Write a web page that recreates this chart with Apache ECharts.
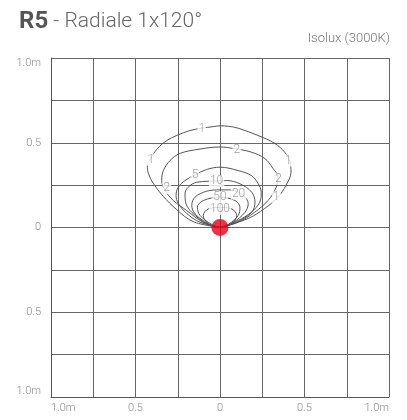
<!DOCTYPE html>
<html>
<head>
<meta charset="utf-8">
<style>
  html, body { margin: 0; padding: 0; background: #fff; }
  #chart { width: 407px; height: 420px; }
</style>
<script src="https://cdn.jsdelivr.net/npm/echarts@6/dist/echarts.min.js"></script>
</head>
<body>
<div id="chart"></div>
<script>
// axis ticks (metres) and their printed labels
const tickValues = [-1, -0.5, 0, 0.5, 1]
const tickLabels = ['1.0m', '0.5', '0', '0.5', '1.0m']

// isolux levels and their contours, [x, y] in metres
const levels = ['1', '2', '5', '10', '20', '50', '100']
const lux1 = [[0, 0], [-0.16, 0.035], [-0.256, 0.105], [-0.337, 0.185], [-0.396, 0.262], [-0.424, 0.32], [-0.43, 0.366], [-0.41, 0.407], [-0.37, 0.466], [-0.315, 0.513], [-0.256, 0.543], [-0.178, 0.572], [-0.108, 0.586], [-0.04, 0.595], [0, 0.6], [0.05, 0.597], [0.107, 0.586], [0.225, 0.543], [0.324, 0.496], [0.383, 0.444], [0.415, 0.385], [0.42, 0.326], [0.39, 0.248], [0.343, 0.179], [0.264, 0.112], [0.166, 0.053], [0, 0]]
const lux2 = [[0, 0], [-0.1, 0.031], [-0.197, 0.1], [-0.276, 0.159], [-0.325, 0.218], [-0.345, 0.277], [-0.335, 0.336], [-0.296, 0.395], [-0.237, 0.437], [-0.118, 0.463], [0, 0.475], [0.087, 0.465], [0.184, 0.445], [0.265, 0.407], [0.314, 0.348], [0.343, 0.297], [0.333, 0.238], [0.284, 0.159], [0.205, 0.09], [0.107, 0.031], [0, 0]]
const lux5 = [[0, 0], [-0.118, 0.031], [-0.197, 0.083], [-0.247, 0.142], [-0.26, 0.189], [-0.247, 0.238], [-0.207, 0.277], [-0.148, 0.311], [-0.079, 0.342], [0, 0.356], [0.107, 0.336], [0.185, 0.307], [0.225, 0.26], [0.244, 0.208], [0.235, 0.149], [0.185, 0.09], [0.107, 0.041], [0, 0]]
const lux10 = [[0, 0], [-0.079, 0.022], [-0.167, 0.09], [-0.201, 0.14], [-0.207, 0.199], [-0.188, 0.238], [-0.138, 0.267], [0, 0.275], [0.04, 0.277], [0.118, 0.258], [0.188, 0.208], [0.207, 0.149], [0.188, 0.09], [0.099, 0.031], [0, 0]]
const lux20 = [[0, 0], [-0.069, 0.022], [-0.148, 0.081], [-0.167, 0.13], [-0.148, 0.179], [-0.079, 0.214], [0, 0.222], [0.059, 0.222], [0.138, 0.189], [0.167, 0.14], [0.148, 0.09], [0.079, 0.031], [0, 0]]
const lux50 = [[0, 0], [-0.049, 0.018], [-0.118, 0.071], [-0.134, 0.12], [-0.099, 0.159], [0, 0.179], [0.089, 0.159], [0.118, 0.12], [0.108, 0.071], [0.049, 0.018], [0, 0]]
const lux100 = [[0, 0], [-0.069, 0.022], [-0.099, 0.071], [-0.069, 0.11], [0, 0.118], [0.069, 0.11], [0.099, 0.071], [0.069, 0.022], [0, 0]]
const contours = [lux1, lux2, lux5, lux10, lux20, lux50, lux100]

// where each level number is printed on its line
const contourLabels = [
  [-0.108, 0.584, '1'], [-0.41, 0.4, '1'], [0.404, 0.395, '1'], [0.334, 0.177, '1'],
  [0.099, 0.458, '2'], [-0.315, 0.234, '2'], [0.345, 0.287, '2'],
  [-0.148, 0.311, '5'],
  [-0.02, 0.273, '10'],
  [0.11, 0.2, '20'],
  [0, 0.179, '50'],
  [0, 0.11, '100']
]

// luminaire position
const source = [[0, 0]]

const chart = echarts.init(document.getElementById('chart'))

const font = 'Roboto, "Liberation Sans", sans-serif'

function tickFormatter(v) {
  const i = tickValues.findIndex(t => Math.abs(t - v) < 1e-9)
  return i < 0 ? '' : tickLabels[i]
}

const axisCommon = {
  type: 'value',
  min: -1,
  max: 1,
  interval: 0.25,
  axisTick: { show: false },
  axisLine: { show: true, onZero: false, lineStyle: { color: '#555', width: 1 } },
  splitLine: { show: true, lineStyle: { color: '#666', width: 1 } },
  axisLabel: {
    color: '#888',
    fontSize: 11,
    fontFamily: font,
    fontWeight: 300,
    formatter: tickFormatter
  }
}

const series = contours.map((pts, i) => ({
  name: levels[i],
  type: 'line',
  data: pts,
  smooth: 0.35,
  showSymbol: false,
  silent: true,
  lineStyle: { color: '#555', width: 1 },
  z: 3
}))

series.push({
  type: 'scatter',
  data: contourLabels.map(d => ({ value: [d[0], d[1]], name: d[2] })),
  symbolSize: 0,
  silent: true,
  z: 5,
  label: {
    show: true,
    position: 'inside',
    formatter: p => p.name,
    color: '#888',
    fontSize: 12,
    fontFamily: font,
    fontWeight: 300,
    backgroundColor: '#fff',
    padding: [0, 1]
  }
})

series.push({
  type: 'scatter',
  data: source,
  symbolSize: 17,
  silent: true,
  z: 6,
  itemStyle: { color: '#e2001a' }
})

chart.setOption({
  animation: false,
  backgroundColor: '#fff',
  title: {
    left: 14,
    top: 5,
    text: '{b|R5}{n| - Radiale 1x120°}',
    textStyle: {
      rich: {
        b: { fontSize: 24, fontWeight: 'bold', color: '#555', fontFamily: font },
        n: { fontSize: 21, fontWeight: 300, color: '#666', fontFamily: font }
      }
    }
  },
  graphic: [{
    type: 'text',
    right: 17,
    top: 32,
    style: { text: 'Isolux (3000K)', fill: '#777', fontSize: 13, fontFamily: font, fontWeight: 300 }
  }],
  grid: { left: 51, right: 18, top: 58, bottom: 23 },
  xAxis: Object.assign({}, axisCommon, {
    axisLabel: Object.assign({}, axisCommon.axisLabel, {
      margin: 6, alignMinLabel: 'left', alignMaxLabel: 'right'
    })
  }),
  yAxis: Object.assign({}, axisCommon, {
    axisLabel: Object.assign({}, axisCommon.axisLabel, {
      margin: 10, verticalAlignMinLabel: 'bottom', verticalAlignMaxLabel: 'top'
    })
  }),
  series
})
</script>
</body>
</html>
